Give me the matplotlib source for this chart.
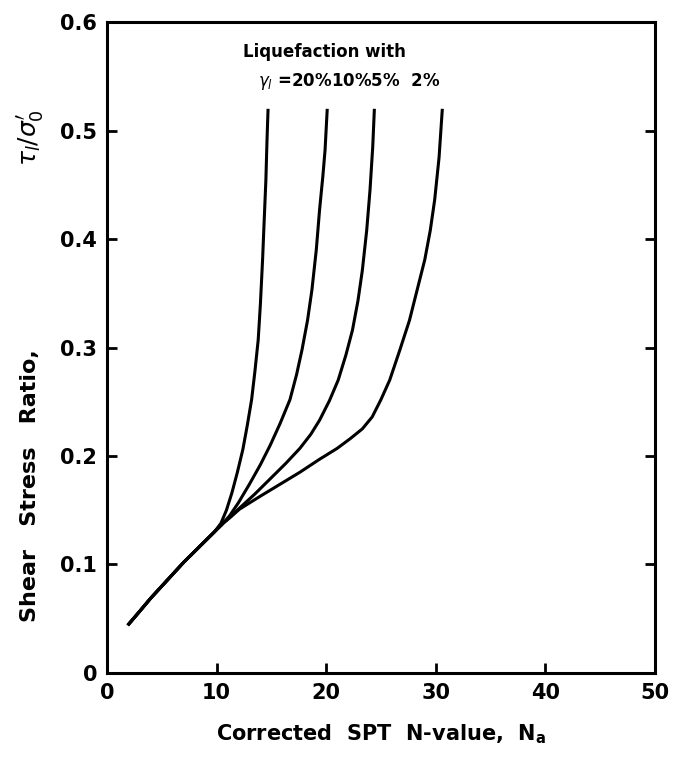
import matplotlib
matplotlib.use("Agg")
import matplotlib.pyplot as plt

# Common lower branch
base_N = [1.9, 3.0, 4.0, 5.0, 6.0, 7.0, 8.0, 9.0, 9.8]
base_tau = [0.044, 0.057, 0.069, 0.080, 0.091, 0.102, 0.112, 0.122, 0.130]

# Upper branches per strain level
n_20 = [10.4, 10.9, 11.4, 11.9, 12.4, 12.8, 13.2, 13.5, 13.8, 14.0, 14.2, 14.35, 14.5, 14.6, 14.7]
t_20 = [0.138, 0.150, 0.166, 0.185, 0.206, 0.228, 0.252, 0.278, 0.307, 0.340, 0.381, 0.418, 0.454, 0.490, 0.520]

n_10 = [10.5, 11.2, 12.0, 13.0, 14.0, 14.9, 15.8, 16.7, 17.3, 17.8, 18.3, 18.7, 19.1, 19.4, 19.7, 19.9, 20.1]
t_10 = [0.137, 0.145, 0.157, 0.174, 0.192, 0.210, 0.230, 0.252, 0.275, 0.298, 0.325, 0.353, 0.390, 0.427, 0.458, 0.482, 0.520]

n_5 = [10.6, 11.3, 12.1, 13.5, 14.9, 16.3, 17.6, 18.6, 19.4, 20.3, 21.1, 21.8, 22.4, 22.9, 23.3, 23.7, 24.0, 24.25, 24.4]
t_5 = [0.138, 0.144, 0.152, 0.165, 0.179, 0.193, 0.207, 0.220, 0.233, 0.251, 0.270, 0.293, 0.316, 0.343, 0.371, 0.408, 0.445, 0.485, 0.520]

n_2 = [10.6, 11.3, 12.1, 14.0, 15.8, 17.6, 19.4, 21.0, 22.2, 23.3, 24.2, 25.0, 25.8, 26.7, 27.6, 28.3, 29.0, 29.5, 29.9, 30.3, 30.6]
t_2 = [0.138, 0.144, 0.151, 0.163, 0.174, 0.185, 0.197, 0.207, 0.216, 0.225, 0.236, 0.252, 0.270, 0.297, 0.325, 0.353, 0.381, 0.408, 0.436, 0.475, 0.520]

x_ticks = [0, 10, 20, 30, 40, 50]
y_ticks = [0, 0.1, 0.2, 0.3, 0.4, 0.5, 0.6]
y_tick_labels = ["0", "0.1", "0.2", "0.3", "0.4", "0.5", "0.6"]

plt.rcParams['font.family'] = ['DejaVu Sans']
plt.rcParams['mathtext.fontset'] = 'dejavusans'

fig = plt.figure(figsize=(6.99, 7.73), dpi=100)
ax = fig.add_axes([0.153, 0.1294, 0.784, 0.8421])

lw = 2.2
for n, t in [(n_20, t_20), (n_10, t_10), (n_5, t_5), (n_2, t_2)]:
    ax.plot(base_N + n, base_tau + t, color='black', lw=lw,
            solid_capstyle='butt', solid_joinstyle='round')

ax.set_xlim(0, 50)
ax.set_ylim(0, 0.6)
ax.set_xticks(x_ticks)
ax.set_yticks(y_ticks)
ax.set_yticklabels(y_tick_labels)
ax.tick_params(direction='in', length=7, width=2, labelsize=15, pad=7,
               right=True, top=False)
for lab in ax.get_xticklabels() + ax.get_yticklabels():
    lab.set_fontweight('bold')
for s in ax.spines.values():
    s.set_linewidth(2.2)

ax.set_xlabel(r"Corrected  SPT  N-value,  $\mathbf{N_a}$", fontsize=15,
              fontweight='bold', labelpad=14)

fig.text(0.043, 0.372, "Shear   Stress   Ratio,", rotation=90, fontsize=16,
         fontweight='bold', ha='center', va='center')
fig.text(0.043, 0.8215, r"$\tau_l/\sigma_0'$", rotation=90, fontsize=18,
         fontweight='bold', ha='center', va='center')

ax.text(12.4, 0.572, "Liquefaction with", fontsize=12, fontweight='bold',
        ha='left', va='center')
ax.text(13.8, 0.545, r"$\gamma_l$ =20%10%5%  2%", fontsize=12, fontweight='bold',
        ha='left', va='center')

fig.savefig("out.png", dpi=100)
